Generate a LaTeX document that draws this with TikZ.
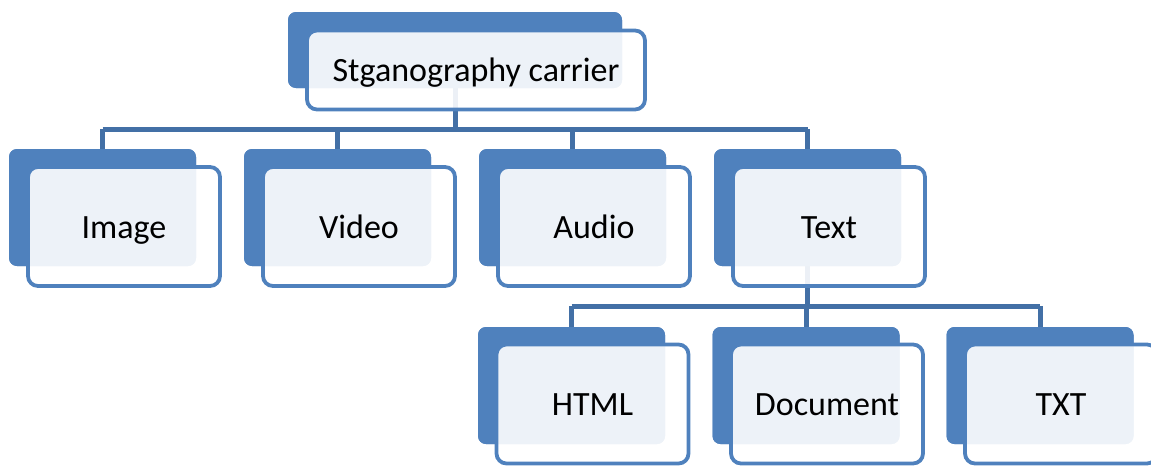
\documentclass[tikz,border=0pt]{standalone}
\usepackage{fontspec}
\setmainfont{Carlito}
\definecolor{accent}{HTML}{4F81BD}
\definecolor{conn}{HTML}{4370A6}
\tikzset{
  backbox/.style={fill=accent, draw=none, rounded corners=8pt, inner sep=0pt,
    minimum width=187pt, minimum height=117pt},
  frontbox/.style={draw=accent, line width=3.8pt, fill=white, fill opacity=0.9,
    text opacity=1, text=black, rounded corners=10pt, inner sep=0pt,
    minimum width=192pt, minimum height=119pt, text height=23pt, text depth=0pt,
    font=\fontsize{34}{40}\selectfont},
  topback/.style={backbox, minimum width=334pt, minimum height=76pt},
  topfront/.style={frontbox, minimum width=338pt, minimum height=79pt},
  link/.style={draw=conn, line width=5pt}
}
\begin{document}
\begin{tikzpicture}[x=1pt, y=-1pt]
\useasboundingbox (0,0) rectangle (1151,466);
% back boxes
\node[topback] (tb) at (455,50) {};
\node[backbox] (b1) at (102.5,207.5) {};
\node[backbox] (b2) at (337.5,207.5) {};
\node[backbox] (b3) at (572.5,207.5) {};
\node[backbox] (b4) at (807.5,207.5) {};
\node[backbox] (c1) at (571.5,385.5) {};
\node[backbox] (c2) at (806,385.5) {};
\node[backbox] (c3) at (1040,385.5) {};
% connectors
\coordinate (j1) at (0,129);
\coordinate (j2) at (0,306);
\draw[link] (tb.south) -- (tb.south |- j1);
\draw[link] (b1.north |- j1) -- (b4.north |- j1);
\foreach \n in {b1,b2,b3,b4} \draw[link] (\n.north |- j1) -- (\n.north);
\draw[link] (b4.south) -- (b4.south |- j2);
\draw[link] (c1.north |- j2) -- (c3.north |- j2);
\foreach \n in {c1,c2,c3} \draw[link] (\n.north |- j2) -- (\n.north);
% redraw back boxes over connector ends
\node[topback] at (tb) {};
\foreach \n in {b1,b2,b3,b4,c1,c2,c3} \node[backbox] at (\n) {};
% front boxes
\node[topfront] (tf) at (476,70) {Stganography carrier};
\node[frontbox] (f1) at (124,226.5) {Image};
\node[frontbox] (f2) at (359,226.5) {Video};
\node[frontbox] (f3) at (594,226.5) {Audio};
\node[frontbox] (f4) at (829,226.5) {Text};
\node[frontbox] (g1) at (592.5,404) {HTML};
\node[frontbox] (g2) at (827,404) {Document};
\node[frontbox] (g3) at (1061,404) {TXT};
\end{tikzpicture}
\end{document}
